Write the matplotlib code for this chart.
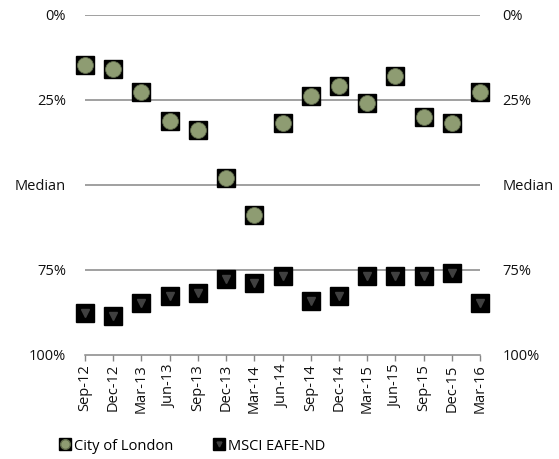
import matplotlib
matplotlib.use('Agg')
import matplotlib.pyplot as plt
from matplotlib.legend_handler import HandlerTuple
from matplotlib.lines import Line2D

# ── datos ────────────────────────────────────────────────────────────────────
quarters = ['Sep-12', 'Dec-12', 'Mar-13', 'Jun-13', 'Sep-13', 'Dec-13', 'Mar-14',
            'Jun-14', 'Sep-14', 'Dec-14', 'Mar-15', 'Jun-15', 'Sep-15', 'Dec-15',
            'Mar-16']
city_pct = [14.9, 16.0, 22.9, 31.3, 33.9, 48.0, 58.9, 31.9, 23.9, 21.0, 26.0,
            18.1, 30.0, 31.9, 22.9]
msci_pct = [87.8, 88.8, 84.8, 82.8, 81.9, 77.8, 78.9, 76.9, 84.4, 82.8, 76.9,
            76.9, 76.9, 75.9, 84.8]
ytick_vals = [0, 25, 50, 75, 100]
ytick_labels = ['0%', '25%', 'Median', '75%', '100%']

GRID = '#868686'
GREEN = '#8e9c72'
FS = 10.5

plt.rcParams['font.family'] = ['Open Sans', 'DejaVu Sans']

W, H = 559, 459
fig = plt.figure(figsize=(W / 100, H / 100), dpi=100, facecolor='white')
ax = fig.add_axes([85 / W, 1 - 354.5 / H, (480 - 85) / W, (354.5 - 14.5) / H])

x = list(range(len(quarters)))

for v in [0, 25, 50, 75]:
    ax.axhline(v, color=GRID, linewidth=1.1, zorder=1)

# City of London: cuadro negro + esfera verde
ax.plot(x, city_pct, linestyle='none', marker='s', markersize=13.4,
        color='black', zorder=3, clip_on=False)
ax.plot(x, city_pct, linestyle='none', marker='o', markersize=11.4,
        markerfacecolor=GREEN, markeredgecolor='#606b4c', markeredgewidth=0.6,
        zorder=4, clip_on=False)

# MSCI EAFE-ND: cuadro negro con triángulo gris
ax.plot(x, msci_pct, linestyle='none', marker='s', markersize=13.4,
        color='black', zorder=3, clip_on=False)
ax.plot(x, msci_pct, linestyle='none', marker='v', markersize=5.5,
        color='#404040', zorder=4, clip_on=False)

ax.set_xlim(0, len(quarters) - 1)
ax.set_ylim(100, 0)
ax.set_xticks(x)
ax.set_xticklabels(quarters, rotation=90, fontsize=FS, color='#111111')
ax.tick_params(axis='x', direction='out', length=4, width=1, color=GRID, pad=3)

ax.set_yticks(ytick_vals)
ax.set_yticklabels(ytick_labels, fontsize=FS, color='#111111')
ax.tick_params(axis='y', length=0, pad=13.5)

ax2 = ax.twinx()
ax2.set_ylim(100, 0)
ax2.set_yticks(ytick_vals)
ax2.set_yticklabels(ytick_labels, fontsize=FS, color='#111111')
ax2.tick_params(axis='y', length=0, pad=16)

for a in (ax, ax2):
    for side in ['top', 'left', 'right', 'bottom']:
        a.spines[side].set_visible(False)
ax.spines['bottom'].set_visible(True)
ax.spines['bottom'].set_color(GRID)
ax.spines['bottom'].set_linewidth(1.1)

# leyenda
h_city = (Line2D([], [], linestyle='none', marker='s', markersize=8, color='black'),
          Line2D([], [], linestyle='none', marker='o', markersize=7,
                 markerfacecolor=GREEN, markeredgecolor='#606b4c'))
h_msci = (Line2D([], [], linestyle='none', marker='s', markersize=8, color='black'),
          Line2D([], [], linestyle='none', marker='v', markersize=3.5, color='#404040'))
fig.legend([h_city, h_msci], ['City of London', 'MSCI EAFE-ND'],
           handler_map={tuple: HandlerTuple(ndivide=1, pad=0)},
           loc='center left', bbox_to_anchor=(46 / W, 1 - 446 / H),
           ncol=2, frameon=False, fontsize=FS, handlelength=0.8,
           handletextpad=0.25, columnspacing=2.7)

fig.savefig('out.png', dpi=100, facecolor='white')
